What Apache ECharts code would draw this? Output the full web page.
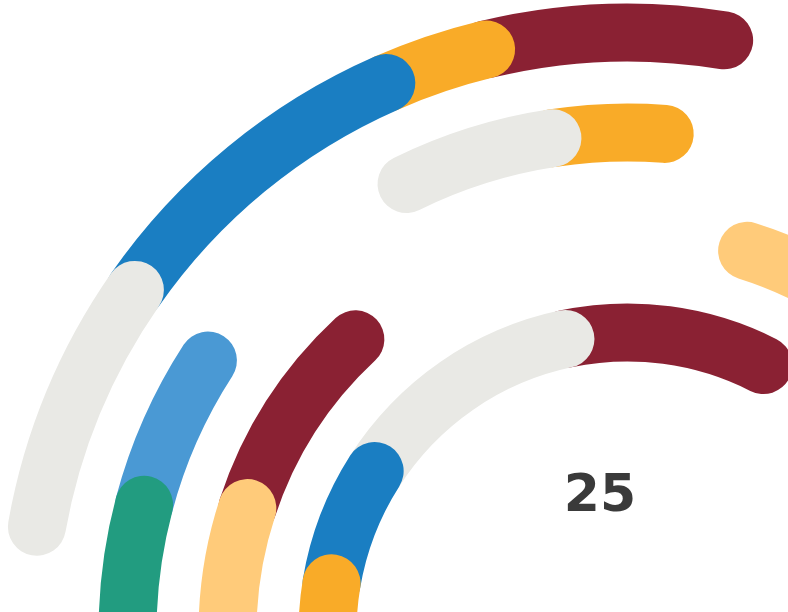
<!DOCTYPE html>
<html>
<head>
<meta charset="utf-8">
<script src="https://cdn.jsdelivr.net/npm/echarts@6/dist/echarts.min.js"></script>
<style>html,body{margin:0;padding:0;background:#fff;}#c{width:788px;height:612px;}</style>
</head>
<body>
<div id="c"></div>
<script>
// Rings from inner to outer
const rings = ['D', 'C', 'B', 'A'];
// Segment lengths (angle units) per stack position, per ring [D, C, B, A]
const seg0 = [0, 0, 0, 10.15];
const seg1 = [9.45, 18.12, 14.8, 24.67];
const seg2 = [23.11, 29.01, 18.15, 31.48];
const seg3 = [45.5, 60.27, 30.82, 10.07];
const seg4 = [38.88, 42.6, 17.6, 22.9];
const seg5 = [0, 0, 12.9, 0];
// Colours per stack position, per ring
const col0 = ['transparent', 'transparent', 'transparent', 'transparent'];
const col1 = ['#F9AB28', '#FFCB7A', '#229C80', '#E9E9E5'];
const col2 = ['#1A7EC2', '#8A2133', '#4A99D4', '#1A7EC2'];
const col3 = ['#E9E9E5', 'transparent', 'transparent', '#F9AB28'];
const col4 = ['#8A2133', '#FFCB7A', '#E9E9E5', '#8A2133'];
const col5 = ['transparent', 'transparent', '#F9AB28', 'transparent'];
const centerLabel = '25';

const segs = [seg0, seg1, seg2, seg3, seg4, seg5];
const cols = [col0, col1, col2, col3, col4, col5];

const chart = echarts.init(document.getElementById('c'));
const series = segs.map((s, i) => ({
  type: 'bar',
  coordinateSystem: 'polar',
  stack: 'all',
  roundCap: true,
  barWidth: 58,
  z: 20 - i,
  silent: true,
  data: s.map((v, j) => ({ value: v, itemStyle: { color: cols[i][j] } }))
}));

chart.setOption({
  animation: false,
  polar: { center: [627.5, 632.5], radius: [250, 650] },
  angleAxis: { type: 'value', min: 0, max: 360, startAngle: 180, clockwise: true, show: false },
  radiusAxis: { type: 'category', data: rings, show: false },
  series: series,
  graphic: [{
    type: 'text',
    x: 600, y: 497,
    style: {
      text: centerLabel,
      fill: '#3A3A3A',
      font: 'bold 52px "DejaVu Sans", sans-serif',
      textAlign: 'center',
      textVerticalAlign: 'middle'
    }
  }]
});
</script>
</body>
</html>
